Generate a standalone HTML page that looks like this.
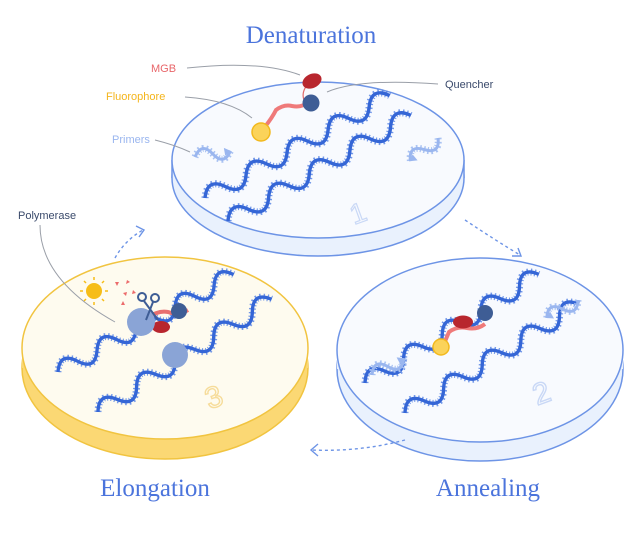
<!DOCTYPE html>
<html><head><meta charset="utf-8"><style>
html,body{margin:0;padding:0;background:#fff;}
svg{display:block;}
text{font-family:"Liberation Sans",sans-serif;}
.t{font-family:"Liberation Serif",serif;font-size:25px;fill:#4b74dc;}
</style></head><body>
<svg width="640" height="559" viewBox="0 0 640 559" xmlns="http://www.w3.org/2000/svg">
<defs>
<g id="h10">
<path d="M0 0 q11.5 -17 23 0 t23 0 t23 0 t23 0 t23 0 t23 0 t23 0 t23 0 t23 0" fill="none" stroke="#5a86e4" stroke-width="7" stroke-dasharray="1.3 2.5" opacity="0.85"/>
<path d="M0 0 q11.5 -17 23 0 t23 0 t23 0 t23 0 t23 0 t23 0 t23 0 t23 0 t23 0" fill="none" stroke="#3566d6" stroke-width="3.4"/>
</g>
<g id="p2">
<path d="M0 0 q9 -14 18 0 t18 0" fill="none" stroke="#a9c2f2" stroke-width="7" stroke-dasharray="1.4 2.4"/>
<path d="M0 0 q9 -14 18 0 t18 0" fill="none" stroke="#9ab6ef" stroke-width="3"/>
<path d="M36 0 l-6 -4 l0 8 z" fill="#9ab6ef"/>
</g>
</defs>

<!-- Disc 1 -->
<ellipse cx="318" cy="178" rx="146" ry="78" fill="#e9f1fd" stroke="#6d94e6" stroke-width="1.5"/>
<rect x="172" y="160" width="292" height="18" fill="#e9f1fd"/>
<line x1="172" y1="160" x2="172" y2="178" stroke="#6d94e6" stroke-width="1.5"/>
<line x1="464" y1="160" x2="464" y2="178" stroke="#6d94e6" stroke-width="1.5"/>
<ellipse cx="318" cy="160" rx="146" ry="78" fill="#f8fafe" stroke="#6d94e6" stroke-width="1.5"/>
<text x="350" y="222" font-size="28" fill="none" stroke="#c9d8f6" stroke-width="1.2" transform="rotate(-20 360 212)">1</text>

<!-- Disc 3 (yellow) -->
<ellipse cx="165" cy="368" rx="143" ry="91" fill="#fbd874" stroke="#f1c440" stroke-width="1.5"/>
<rect x="22" y="348" width="286" height="20" fill="#fbd874"/>
<ellipse cx="165" cy="348" rx="143" ry="91" fill="#fefbef" stroke="#f1c440" stroke-width="1.5"/>
<text x="205" y="405" font-size="30" fill="none" stroke="#f6dc9a" stroke-width="1.4" transform="rotate(-20 220 395)">3</text>

<!-- Disc 2 -->
<ellipse cx="480" cy="369" rx="143" ry="92" fill="#e9f1fd" stroke="#6d94e6" stroke-width="1.5"/>
<rect x="337" y="350" width="286" height="19" fill="#e9f1fd"/>
<ellipse cx="480" cy="350" rx="143" ry="92" fill="#f8fafe" stroke="#6d94e6" stroke-width="1.5"/>
<text x="533" y="402" font-size="30" fill="none" stroke="#c9d8f6" stroke-width="1.4" transform="rotate(-20 545 392)">2</text>

<!-- dashed arrows -->
<g fill="none" stroke="#6d94e6" stroke-width="1.4" stroke-dasharray="3 3">
<path d="M115 258 Q125 240 143 230"/>
<path d="M465 220 Q495 240 520 255"/>
<path d="M405 440 Q360 452 312 450"/>
</g>
<g fill="none" stroke="#6d94e6" stroke-width="1.4">
<path d="M136 226 l8 4 l-5 7"/>
<path d="M512 256 l9 0 l-3 -8"/>
<path d="M318 444 l-7 6 l7 6"/>
</g>

<!-- Disc1 contents -->
<use href="#h10" transform="translate(205 198) rotate(-29) scale(1.02 1)"/>
<use href="#h10" transform="translate(228 221) rotate(-30) scale(1.02 1)"/>
<use href="#p2" transform="translate(195 157) rotate(-10)"/>
<use href="#p2" transform="translate(438 138) rotate(140)"/>
<path d="M264 128 q8 -10 12 -18 q8 -6 16 -4 q10 2 16 -4" fill="none" stroke="#ef7a7a" stroke-width="4"/>
<path d="M304 100 q-3 -8 4 -16" fill="none" stroke="#e06a6a" stroke-width="1.2"/>
<circle cx="261" cy="132" r="9" fill="#fbd35a" stroke="#f2b91e" stroke-width="1.5"/>
<circle cx="311" cy="103" r="8.5" fill="#3e5d95"/>
<ellipse cx="312" cy="81" rx="10" ry="7" fill="#b8262e" transform="rotate(-25 312 81)"/>

<!-- Disc3 contents -->
<use href="#h10" transform="translate(58 372) rotate(-29) scale(0.97 1)"/>
<use href="#h10" transform="translate(98 412) rotate(-33) scale(1.0 1)"/>
<path d="M148 318 q10 -8 20 -6 q10 4 20 -2" fill="none" stroke="#e87070" stroke-width="4"/>
<ellipse cx="161" cy="327" rx="9" ry="6" fill="#b8262e"/>
<circle cx="179" cy="311" r="8" fill="#3e5d95"/>
<circle cx="141" cy="322" r="14" fill="#8aa4d6"/>
<circle cx="175" cy="355" r="13" fill="#8aa4d6"/>
<g stroke="#3e5d95" stroke-width="2" fill="none">
<circle cx="142" cy="297" r="4"/><circle cx="155" cy="298" r="4"/>
<line x1="144" y1="301" x2="158" y2="320"/><line x1="153" y1="302" x2="146" y2="320"/>
</g>
<circle cx="94" cy="291" r="8" fill="#f6bd18"/>
<g stroke="#f6bd18" stroke-width="1.5">
<line x1="94" y1="277" x2="94" y2="280"/><line x1="94" y1="302" x2="94" y2="305"/>
<line x1="80" y1="291" x2="83" y2="291"/><line x1="105" y1="291" x2="108" y2="291"/>
<line x1="84" y1="281" x2="86" y2="283"/><line x1="102" y1="299" x2="104" y2="301"/>
<line x1="84" y1="301" x2="86" y2="299"/><line x1="102" y1="283" x2="104" y2="281"/>
</g>
<g fill="#ec6b6b">
<path d="M115 282 l4 0 l-2 4 z"/><path d="M127 280 l3 2 l-4 2 z"/><path d="M123 293 l4 -1 l-1 4 z"/><path d="M133 290 l3 3 l-4 1 z"/><path d="M121 305 l4 0 l-2 -4 z"/>
</g>

<!-- Disc2 contents -->
<use href="#h10" transform="translate(365 383) rotate(-32) scale(0.99 1)"/>
<use href="#h10" transform="translate(405 413) rotate(-32) scale(0.99 1)"/>
<use href="#p2" transform="translate(372 375) rotate(-28)"/>
<use href="#p2" transform="translate(578 300) rotate(150)"/>
<path d="M443 346 l6 -14 q8 -6 18 -4 q10 2 18 -4" fill="none" stroke="#ef7a7a" stroke-width="4"/>
<ellipse cx="463" cy="322" rx="10" ry="6.5" fill="#b8262e"/>
<circle cx="485" cy="313" r="8" fill="#3e5d95"/>
<circle cx="441" cy="347" r="8" fill="#fbd35a" stroke="#f2b91e" stroke-width="1.5"/>

<!-- leader lines -->
<g fill="none" stroke="#9a9fa8" stroke-width="1">
<path d="M187 68 Q260 60 300 75"/>
<path d="M185 97 Q230 100 252 118"/>
<path d="M155 140 Q175 145 190 152"/>
<path d="M438 84 Q360 78 327 92"/>
<path d="M40 225 Q40 280 115 322"/>
</g>

<!-- labels -->
<text x="151" y="72" font-size="11" fill="#e8666a">MGB</text>
<text x="106" y="100" font-size="11" fill="#f4b51c">Fluorophore</text>
<text x="112" y="143" font-size="11" fill="#9ab6ef">Primers</text>
<text x="445" y="88" font-size="11" fill="#3a4a6b">Quencher</text>
<text x="18" y="219" font-size="11" fill="#3a4a6b">Polymerase</text>
<text class="t" x="311" y="43" text-anchor="middle">Denaturation</text>
<text class="t" x="155" y="496" text-anchor="middle">Elongation</text>
<text class="t" x="488" y="496" text-anchor="middle">Annealing</text>
</svg>
</body></html>
